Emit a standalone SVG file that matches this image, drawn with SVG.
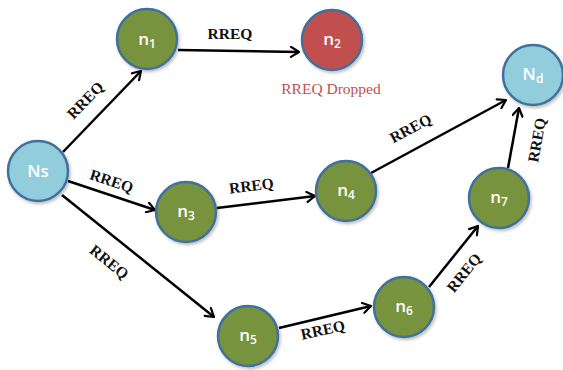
<svg xmlns="http://www.w3.org/2000/svg" width="563" height="370" viewBox="0 0 563 370">
<style>
.node{stroke:#41719c;stroke-width:2.5}
.g{fill:#77933c}
.b{fill:#92cddc}
.r{fill:#c0504d}
.nt{font-family:"Open Sans","Liberation Sans",sans-serif;font-size:17px;font-weight:600;fill:#fff;text-anchor:middle}
.sub{font-size:12px}
.edge{stroke:#000;stroke-width:2.5;fill:none;marker-end:url(#arr)}
.lbl{font-family:"Liberation Serif",serif;font-weight:bold;font-size:15.5px;fill:#111;text-anchor:middle}
</style>
<defs>
<marker id="arr" viewBox="0 0 12 12" refX="10" refY="6" markerWidth="12" markerHeight="12" markerUnits="userSpaceOnUse" orient="auto">
<path d="M2,1 L10,6 L2,11" fill="none" stroke="#000" stroke-width="2.2" stroke-linecap="round" stroke-linejoin="round"/>
</marker>
<filter id="sh" x="-20%" y="-20%" width="150%" height="150%">
<feDropShadow dx="1.5" dy="2" stdDeviation="1.5" flood-color="#000" flood-opacity="0.25"/>
</filter>
</defs>
<g id="connectors">
<line class="edge" x1="63" y1="152" x2="141" y2="71"/>
<line class="edge" x1="178" y1="50" x2="299" y2="52"/>
<line class="edge" x1="68" y1="181" x2="155" y2="210"/>
<line class="edge" x1="62" y1="195" x2="214" y2="317"/>
<line class="edge" x1="217" y1="208" x2="315" y2="196"/>
<line class="edge" x1="371" y1="173" x2="506" y2="100"/>
<line class="edge" x1="279" y1="328" x2="371" y2="306"/>
<line class="edge" x1="429" y1="287" x2="478" y2="226"/>
<line class="edge" x1="508" y1="168" x2="519" y2="108"/>
<text class="lbl" transform="translate(89,104) rotate(-46)">RREQ</text>
<text class="lbl" x="230" y="39">RREQ</text>
<text class="lbl" transform="translate(110,186) rotate(18)">RREQ</text>
<text class="lbl" transform="translate(106,266) rotate(39)">RREQ</text>
<text class="lbl" transform="translate(252,191) rotate(-7)">RREQ</text>
<text class="lbl" transform="translate(413,133) rotate(-28)">RREQ</text>
<text class="lbl" transform="translate(324,335) rotate(-12)">RREQ</text>
<text class="lbl" transform="translate(468,276) rotate(-51)">RREQ</text>
<text class="lbl" transform="translate(542,141) rotate(-80)">RREQ</text>
</g>
<g id="Ns"><circle class="node b" cx="38" cy="171" r="30" filter="url(#sh)"/><text class="nt" x="38" y="177">Ns</text></g>
<g id="n1"><circle class="node g" cx="147" cy="39" r="30" filter="url(#sh)"/><text class="nt" x="147" y="45">n<tspan class="sub" dy="3">1</tspan></text></g>
<g id="n2"><circle class="node r" cx="332" cy="40" r="30" filter="url(#sh)"/><text class="nt" x="332" y="45">n<tspan class="sub" dy="3">2</tspan></text><text x="331" y="94" style="font-family:'Liberation Serif',serif;font-size:15.5px;fill:#c0504d;text-anchor:middle">RREQ Dropped</text></g>
<g id="Nd"><circle class="node b" cx="533" cy="75" r="30" filter="url(#sh)"/><text class="nt" x="533" y="80">N<tspan class="sub" dy="3">d</tspan></text></g>
<g id="n3"><circle class="node g" cx="186" cy="212" r="30" filter="url(#sh)"/><text class="nt" x="186" y="217">n<tspan class="sub" dy="3">3</tspan></text></g>
<g id="n4"><circle class="node g" cx="346" cy="191" r="30" filter="url(#sh)"/><text class="nt" x="346" y="196">n<tspan class="sub" dy="3">4</tspan></text></g>
<g id="n5"><circle class="node g" cx="248" cy="336" r="30" filter="url(#sh)"/><text class="nt" x="248" y="341">n<tspan class="sub" dy="3">5</tspan></text></g>
<g id="n6"><circle class="node g" cx="404" cy="307" r="30" filter="url(#sh)"/><text class="nt" x="404" y="312">n<tspan class="sub" dy="3">6</tspan></text></g>
<g id="n7"><circle class="node g" cx="499" cy="198" r="30" filter="url(#sh)"/><text class="nt" x="499" y="203">n<tspan class="sub" dy="3">7</tspan></text></g>
</svg>
